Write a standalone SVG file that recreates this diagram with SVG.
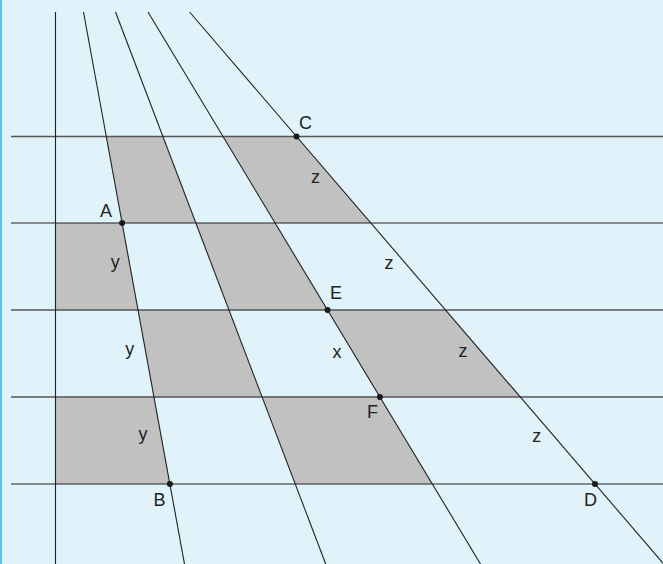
<svg xmlns="http://www.w3.org/2000/svg" width="663" height="564" viewBox="0 0 663 564">
<defs>
<style>
.bg{fill:#e0f2fa}
.sh{fill:#c1c1c1;stroke:none}
.hl{stroke:#555;stroke-width:1.3;fill:none}
.ln{stroke:#222;stroke-width:1.1;fill:none}
.pt{fill:#1a1a1a}
.lb{font-family:"Liberation Sans",Arial,sans-serif;font-size:18px;fill:#222;text-anchor:middle}
</style>
</defs>
<rect class="bg" x="0" y="0" width="663" height="564"/>
<rect x="0" y="0" width="2" height="564" fill="#4cc4ee"/>
<g id="shading">
<polygon class="sh" points="106.2,136.5 162.7,136.5 195.8,223 122.1,223"/>
<polygon class="sh" points="222.7,136.5 296.5,136.5 371.2,223 275.1,223"/>
<polygon class="sh" points="55.5,223 122.1,223 138,310 55.5,310"/>
<polygon class="sh" points="195.8,223 275.1,223 327.5,310 229,310"/>
<polygon class="sh" points="138,310 229,310 262.1,397 154,397"/>
<polygon class="sh" points="327.5,310 445.9,310 520.6,397 379.9,397"/>
<polygon class="sh" points="55.5,397 154,397 169.9,484 55.5,484"/>
<polygon class="sh" points="262.1,397 379.9,397 432.3,484 295.2,484"/>
</g>
<g id="connectors">
<line class="hl" x1="11" y1="136.5" x2="663" y2="136.5"/>
<line class="ln" x1="11" y1="223" x2="663" y2="223"/>
<line class="hl" x1="11" y1="310" x2="663" y2="310"/>
<line class="hl" x1="11" y1="397" x2="663" y2="397"/>
<line class="ln" x1="11" y1="484" x2="663" y2="484"/>
<line class="ln" x1="55.5" y1="12" x2="55.5" y2="564"/>
<line class="ln" x1="83.5" y1="12" x2="184.5" y2="564"/>
<line class="ln" x1="115.5" y1="12" x2="325.7" y2="564"/>
<line class="ln" x1="148" y1="12" x2="480.5" y2="564"/>
<line class="ln" x1="189.6" y1="12" x2="665" y2="565.5"/>
</g>
<g id="A"><circle class="pt" cx="122.1" cy="223" r="3"/><text class="lb" x="106" y="217">A</text></g>
<g id="B"><circle class="pt" cx="169.9" cy="484" r="3"/><text class="lb" x="159.5" y="506">B</text></g>
<g id="C"><circle class="pt" cx="296.5" cy="136.5" r="3"/><text class="lb" x="305.5" y="129">C</text></g>
<g id="D"><circle class="pt" cx="595" cy="484" r="3"/><text class="lb" x="590.5" y="506">D</text></g>
<g id="E"><circle class="pt" cx="327.5" cy="310" r="3"/><text class="lb" x="336" y="299">E</text></g>
<g id="F"><circle class="pt" cx="379.9" cy="397" r="3"/><text class="lb" x="372.6" y="418">F</text></g>
<g id="labels">
<text class="lb" x="115.3" y="268">y</text>
<text class="lb" x="129.7" y="355">y</text>
<text class="lb" x="143" y="440">y</text>
<text class="lb" x="315.5" y="183">z</text>
<text class="lb" x="389" y="269">z</text>
<text class="lb" x="463" y="356.5">z</text>
<text class="lb" x="536.7" y="442">z</text>
<text class="lb" x="337" y="358">x</text>
</g>
</svg>
